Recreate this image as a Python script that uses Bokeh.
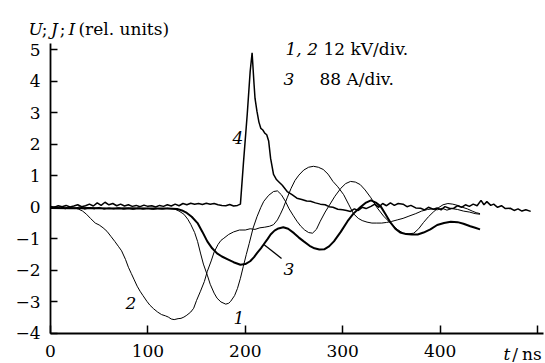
from bokeh.plotting import figure
from bokeh.models import Label, Range1d, FixedTicker
from bokeh.embed import file_html
from bokeh.resources import INLINE

# ---- data ----
c1_t = [0, 5, 10, 15, 20, 25, 30, 35, 40, 45, 50, 55, 60, 65, 70, 75, 80, 85, 90, 95, 100, 105, 110, 115, 120, 127,
        132, 137, 141, 144, 148, 151, 154, 157, 161, 164, 168, 171, 175, 180, 183, 185, 189, 192, 195, 198, 201, 204,
        208, 212, 216, 219, 224, 229, 233, 237, 241, 245, 249, 253, 257, 261, 265, 269, 273, 277, 282, 287, 292, 298,
        303, 308, 313, 318, 323, 329, 335, 342, 349, 356, 362, 368, 373, 378, 383, 388, 393, 398, 403, 408, 413, 418,
        423, 428, 433, 437, 441]
c1_y = [0.0, -0.03, 0.02, -0.05, 0.0, -0.04, 0.02, -0.06, -0.02, -0.05, 0.0, -0.06, -0.02, -0.05, -0.01, -0.06, -0.03,
        -0.07, -0.02, -0.06, -0.03, -0.07, -0.04, -0.06, -0.03, -0.05,
        -0.12, -0.22, -0.38, -0.54, -0.8, -1.08, -1.45, -1.8, -2.15, -2.44, -2.72, -2.88, -3.0, -3.07, -3.04, -2.98,
        -2.8, -2.57, -2.25, -1.87, -1.5, -1.15, -0.66, -0.3, 0.0, 0.19, 0.38, 0.5, 0.52, 0.4, 0.2, -0.05, -0.25, -0.44,
        -0.6, -0.72, -0.8, -0.82, -0.7, -0.44, -0.15, 0.1, 0.35, 0.6, 0.75, 0.82, 0.8, 0.72, 0.55, 0.3, 0.0, -0.28,
        -0.5, -0.7, -0.82, -0.84, -0.82, -0.68, -0.48, -0.3, -0.15, -0.02, 0.08, 0.12, 0.1, 0.06, 0.0, -0.05, -0.12,
        -0.17, -0.2]

c2_t = [0, 5, 10, 15, 20, 25, 29, 33, 37, 41, 46, 50, 54, 58, 62, 66, 70, 73, 77, 80, 83, 86, 89, 92, 95, 99, 102,
        106, 110, 114, 118, 121, 124, 127, 131, 134, 137, 140, 144, 147, 150, 154, 158, 161, 165, 168, 172, 175, 178,
        183, 188, 194, 200, 205, 210, 215, 220, 225, 229, 233, 236, 239, 243, 247, 251, 255, 260, 265, 270, 275, 280,
        285, 290, 295, 301, 306, 311, 316, 320, 325, 330, 335, 340, 345, 350, 356, 362, 368, 375, 381, 387, 392, 397,
        402, 407, 412, 418, 424, 430, 436, 441]
c2_y = [-0.02, 0.02, -0.03, 0.01, -0.04, -0.02, -0.06, -0.12, -0.22, -0.35, -0.5, -0.56, -0.65, -0.76, -0.92, -1.08,
        -1.25, -1.38, -1.65, -1.9, -2.1, -2.3, -2.5, -2.66, -2.8, -2.98, -3.1, -3.22, -3.32, -3.4, -3.44, -3.48, -3.54,
        -3.56, -3.53, -3.52, -3.48, -3.42, -3.32, -3.2, -2.95, -2.66, -2.35, -2.03, -1.7, -1.42, -1.18, -1.05, -0.98,
        -0.86, -0.78, -0.72, -0.72, -0.68, -0.7, -0.65, -0.63, -0.6, -0.55, -0.4, -0.22, -0.02, 0.3, 0.6, 0.85, 1.02,
        1.18, 1.27, 1.3, 1.27, 1.2, 1.05, 0.82, 0.65, 0.4, 0.1, -0.2, -0.35, -0.42, -0.47, -0.5, -0.5, -0.5, -0.48,
        -0.45, -0.4, -0.35, -0.28, -0.2, -0.12, -0.07, -0.05, -0.08, -0.03, -0.09, -0.04, -0.07, -0.12, -0.15, -0.2,
        -0.22]

c3_t = [0, 20, 40, 60, 80, 100, 120, 130, 135, 140, 145, 151, 156, 161, 166, 171, 176, 182, 188, 195, 200, 205, 209,
        212, 216, 219, 223, 226, 230, 234, 239, 244, 250, 255, 260, 266, 271, 276, 281, 286, 291, 298, 305, 311, 318,
        324, 329, 334, 339, 344, 349, 354, 359, 365, 371, 377, 383, 390, 397, 404, 411, 418, 424, 431, 436, 441]
c3_y = [-0.02, -0.03, -0.02, -0.04, -0.03, -0.04, -0.04, -0.05, -0.1, -0.18, -0.3, -0.5, -0.78, -1.08, -1.3, -1.46,
        -1.56, -1.65, -1.74, -1.82, -1.8, -1.71, -1.58, -1.45, -1.3, -1.17, -1.0, -0.86, -0.74, -0.67, -0.63, -0.68,
        -0.82, -0.96, -1.08, -1.22, -1.3, -1.34, -1.33, -1.24, -1.08, -0.78, -0.44, -0.2, 0.0, 0.15, 0.22, 0.15, 0.03,
        -0.22, -0.48, -0.68, -0.8, -0.85, -0.86, -0.86, -0.8, -0.7, -0.56, -0.5, -0.46, -0.47, -0.52, -0.6, -0.65, -0.7]

c4_t = [0, 4, 8, 12, 16, 20, 24, 28, 32, 36, 40, 44, 48, 52, 56, 60, 64, 68, 72, 76, 80, 84, 88, 92, 96, 100, 104,
        108, 112, 116, 120, 124, 128, 132, 136, 140, 144, 148, 152, 156, 160, 164, 168, 172, 176, 180, 184, 188, 192,
        195, 198, 202, 205, 207, 209, 210, 212, 214, 216, 218, 220, 222, 224, 226, 229, 232, 234, 238, 243, 248, 253,
        258, 263, 267, 272, 277, 282, 286, 290, 295, 300, 304, 308, 312, 316, 320, 324, 329, 333, 337, 341, 345, 349,
        353, 357, 362, 366, 370, 375, 380, 384, 388, 393, 397, 401, 405, 410, 414, 418, 422, 426, 430, 434, 438, 442,
        445, 448, 452, 455, 459, 463, 467, 472, 476, 480, 484, 488, 493]
c4_y = [0.03, 0.0, 0.05, 0.02, 0.06, 0.01, 0.04, 0.08, 0.02, 0.05, 0.1, 0.04, 0.14, 0.06, 0.16, 0.08, 0.12, 0.05, 0.1,
        0.04, 0.08, 0.03, 0.06, 0.02, 0.07, 0.03, 0.05, 0.01, 0.06, 0.03, 0.08, 0.04, 0.1, 0.05, 0.12, 0.08, 0.13, 0.1,
        0.12, 0.09, 0.13, 0.1, 0.12, 0.08, 0.06, 0.05, 0.09, 0.04, 0.06,
        0.1, 1.36, 2.95, 4.3, 4.9, 3.9, 3.45, 3.04, 2.7, 2.5, 2.45, 2.35, 2.3, 2.1, 1.55, 1.04, 0.88, 0.82, 0.7, 0.5,
        0.4, 0.29, 0.25, 0.2, 0.19, 0.14, 0.1, 0.08, 0.02, 0.0, -0.06, -0.08, -0.1, -0.13, -0.05, -0.1, 0.0, -0.04,
        0.03, 0.1, 0.0, 0.12, 0.05, 0.14, 0.06, 0.12, 0.1, 0.02, 0.06, -0.02, -0.03, -0.08, 0.0, -0.06, -0.02, -0.08,
        0.02, -0.04, -0.03, 0.05, 0.0, 0.08, 0.03, 0.1, 0.05, 0.22, 0.08, 0.18, 0.06, 0.1, 0.0, 0.05, -0.04, -0.03,
        -0.1, -0.05, -0.12, -0.08, -0.13]

y_ticks = [-4, -3, -2, -1, 0, 1, 2, 3, 4, 5]
x_ticks = [0, 100, 200, 300, 400, 500]

FONT = "DejaVu Serif"
FS = "17px"

# the frame covers the whole canvas; axes are pinned at t=0 and y=-4
p = figure(width=545, height=363, output_backend="svg", toolbar_location=None,
           x_range=Range1d(-51.3, 508.2), y_range=Range1d(-4.951, 6.555),
           min_border_left=0, min_border_right=0, min_border_top=0, min_border_bottom=0)
p.outline_line_color = None
p.grid.visible = False
p.background_fill_color = "white"
p.border_fill_color = "white"

for ax in (p.xaxis[0], p.yaxis[0]):
    ax.axis_line_width = 1.8
    ax.axis_line_color = "black"
    ax.major_tick_line_width = 1.5
    ax.major_tick_line_color = "black"
    ax.minor_tick_line_color = None
    ax.major_tick_out = 0
    ax.major_label_text_font = FONT
    ax.major_label_text_font_size = FS
    ax.major_label_text_color = "black"

xa = p.xaxis[0]
xa.ticker = FixedTicker(ticks=x_ticks)
xa.fixed_location = -4
xa.bounds = (0, 506)
xa.major_tick_in = 8
xa.major_label_standoff = 12
xa.major_label_overrides = {500: ""}

ya = p.yaxis[0]
ya.ticker = FixedTicker(ticks=y_ticks)
ya.fixed_location = 0
ya.bounds = (-4, 5.2)
ya.major_tick_in = 7
ya.major_label_standoff = 10
ya.major_label_overrides = {v: (str(v).replace("-", "\u2212")) for v in y_ticks}

p.line(c2_t, c2_y, line_color="black", line_width=1.0)
p.line(c1_t, c1_y, line_color="black", line_width=1.0)
p.line(c3_t, c3_y, line_color="black", line_width=2.0)
p.line(c4_t, c4_y, line_color="black", line_width=1.5)

# leader line for label 3
p.segment(x0=[218.7], y0=[-1.17], x1=[237.2], y1=[-1.62], line_color="black", line_width=1.3)


def lab(x, y, text, italic=False, baseline="alphabetic"):
    p.add_layout(Label(x=x, y=y, text=text, text_font=FONT, text_font_size=FS,
                       text_font_style="italic" if italic else "normal",
                       text_baseline=baseline, text_align="left", text_color="black"))


# y-axis title
lab(-22.5, 5.667, "U", True)
lab(-9.0, 5.667, ";")
lab(0.5, 5.667, "J", True)
lab(9.5, 5.667, ";")
lab(18.5, 5.667, "I", True)
lab(28.7, 5.667, "(rel. units)")

# scale notes
lab(241.3, 5.03, "1, 2", True)
lab(280.3, 5.03, "12 kV/div.")
lab(239.2, 4.08, "3", True)
lab(276.2, 4.08, "88 A/div.")

# curve labels
lab(186.9, 2.21, "4", True)
lab(77.0, -3.02, "2", True)
lab(187.9, -3.52, "1", True)
lab(239.2, -1.94, "3", True)

# x-axis unit in place of the 500 label
lab(465.0, -4.33, "t", True, "top")
lab(474.0, -4.33, "/", False, "top")
lab(484.0, -4.33, "ns", False, "top")

open("out.html", "w").write(file_html(p, INLINE))
